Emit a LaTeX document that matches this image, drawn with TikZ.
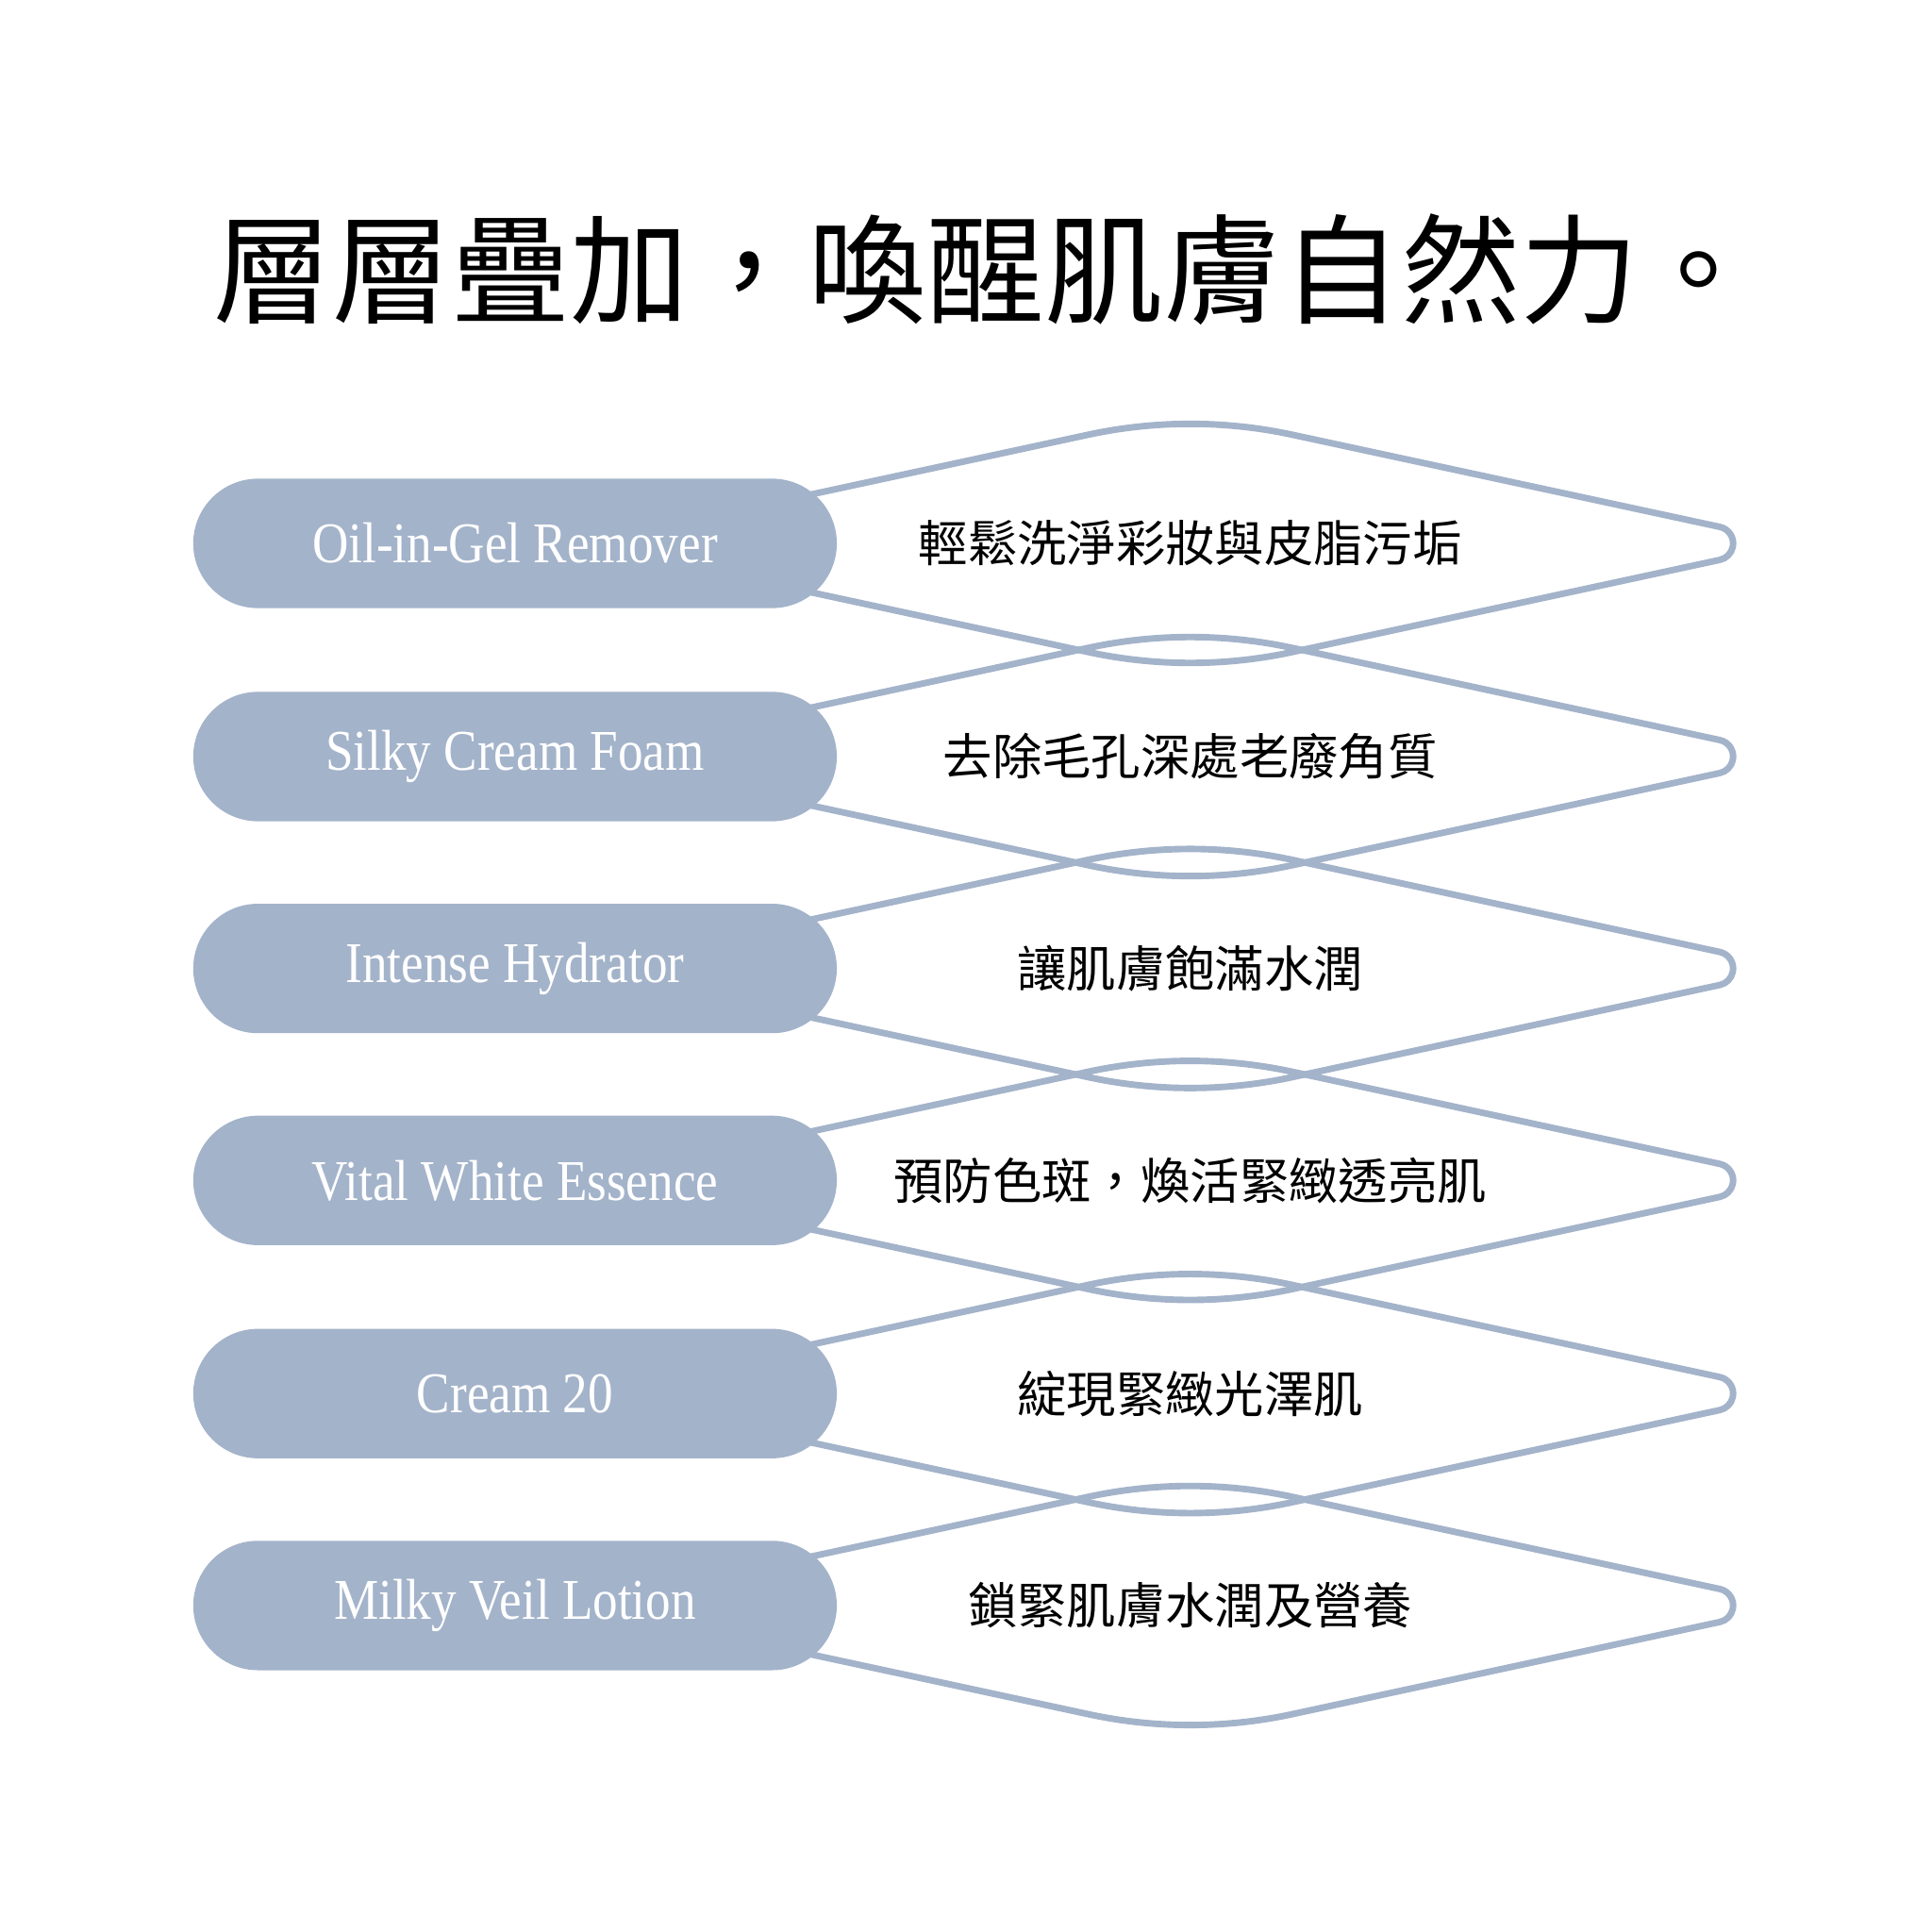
\documentclass[tikz,border=0pt]{standalone}
\usepackage{fontspec}
\setmainfont{Liberation Serif}
\newfontfamily\cjk{Noto Sans CJK TC}
\newfontfamily\pillfont[FakeStretch=0.87]{Liberation Serif}
\usepackage{tikz}
\usetikzlibrary{calc,backgrounds,shapes.misc}
\definecolor{veilBlue}{RGB}{163,179,202}
\tikzset{
  % pills on the left, step texts on the right, diamond bands behind
  headline/.style={
    font=\cjk\fontsize{27.4}{31}\selectfont,
    text=black,
    inner sep=0pt
  },
  pill/.style={
    rounded rectangle,
    fill=veilBlue,
    minimum width=5.22cm,
    minimum height=1.05cm,
    inner sep=0pt,
    text=white,
    font=\pillfont\fontsize{13.3}{15}\selectfont
  },
  desc/.style={
    font=\cjk\fontsize{11.4}{14}\selectfont,
    text=black,
    inner sep=0pt
  },
  band/.style={
    draw=veilBlue,
    line width=1.5pt
  },
  % wide soft arc at top and bottom, tight round tip on the right
  topbend/.style={start angle=-102.16, end angle=-77.84, radius=393},
  tipbend/.style={start angle=-77.84, end angle=77.84, radius=13.7},
  botbend/.style={start angle=77.84, end angle=102.16, radius=393}
}

\begin{document}
\begin{tikzpicture}[x=0.01cm,y=-0.01cm]
\useasboundingbox (0,0) rectangle (1568,1568);

\node[headline] (title) at (800,219) {層層疊加，喚醒肌膚自然力。};

\node[pill] (p1) at (418,441) {Oil-in-Gel Remover};
\node[pill] (p2) at (418,614) {Silky Cream Foam};
\node[pill] (p3) at (418,786) {Intense Hydrator};
\node[pill] (p4) at (418,958) {Vital White Essence};
\node[pill] (p5) at (418,1131) {Cream 20};
\node[pill] (p6) at (418,1303) {Milky Veil Lotion};

\node[desc] (d1) at (966,441) {輕鬆洗淨彩妝與皮脂污垢};
\node[desc] (d2) at (966,614) {去除毛孔深處老廢角質};
\node[desc] (d3) at (966,786) {讓肌膚飽滿水潤};
\node[desc] (d4) at (966,958) {預防色斑，煥活緊緻透亮肌};
\node[desc] (d5) at (966,1131) {綻現緊緻光澤肌};
\node[desc] (d6) at (966,1303) {鎖緊肌膚水潤及營養};

\begin{scope}[on background layer]
\draw[band] ($(d1)+(-492,0)$) -- ($(d1)+(-82.8,-88.2)$) arc[topbend] -- ($(d1)+(429.8,-13.4)$) arc[tipbend] -- ($(d1)+(82.8,88.2)$) arc[botbend] -- cycle;
\draw[band] ($(d2)+(-492,0)$) -- ($(d2)+(-82.8,-88.2)$) arc[topbend] -- ($(d2)+(429.8,-13.4)$) arc[tipbend] -- ($(d2)+(82.8,88.2)$) arc[botbend] -- cycle;
\draw[band] ($(d3)+(-492,0)$) -- ($(d3)+(-82.8,-88.2)$) arc[topbend] -- ($(d3)+(429.8,-13.4)$) arc[tipbend] -- ($(d3)+(82.8,88.2)$) arc[botbend] -- cycle;
\draw[band] ($(d4)+(-492,0)$) -- ($(d4)+(-82.8,-88.2)$) arc[topbend] -- ($(d4)+(429.8,-13.4)$) arc[tipbend] -- ($(d4)+(82.8,88.2)$) arc[botbend] -- cycle;
\draw[band] ($(d5)+(-492,0)$) -- ($(d5)+(-82.8,-88.2)$) arc[topbend] -- ($(d5)+(429.8,-13.4)$) arc[tipbend] -- ($(d5)+(82.8,88.2)$) arc[botbend] -- cycle;
\draw[band] ($(d6)+(-492,0)$) -- ($(d6)+(-82.8,-88.2)$) arc[topbend] -- ($(d6)+(429.8,-13.4)$) arc[tipbend] -- ($(d6)+(82.8,88.2)$) arc[botbend] -- cycle;
\end{scope}

\end{tikzpicture}
\end{document}
